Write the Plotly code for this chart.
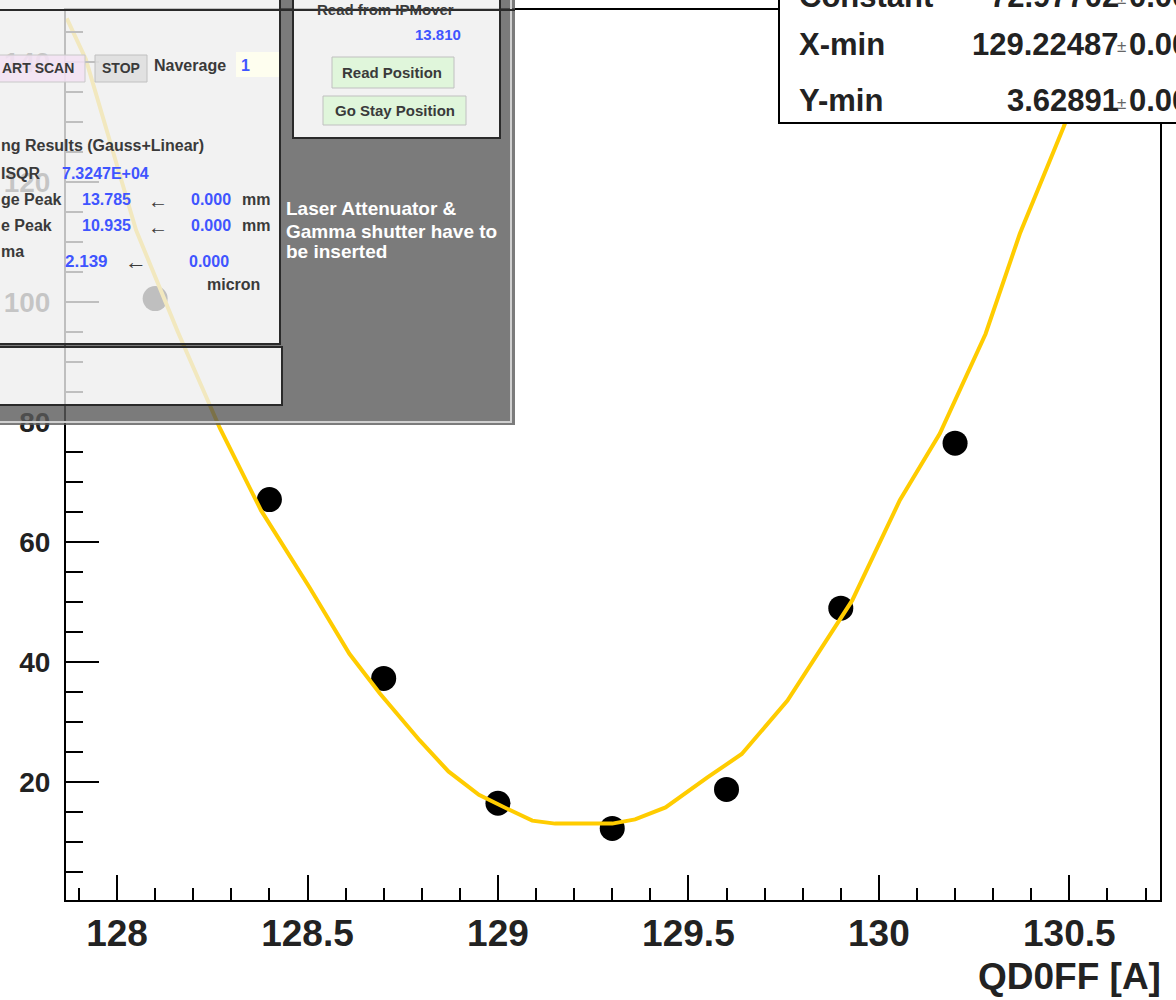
import plotly.graph_objects as go

# ---------------- data ----------------
qd0ff_current = [128.1, 128.4, 128.7, 129.0, 129.3, 129.6, 129.9, 130.2]
beam_size = [100.6, 67.1, 37.3, 16.5, 12.3, 18.8, 49.0, 76.5]

fit_x = [127.868, 127.918, 128.05, 128.16, 128.27, 128.378, 128.505, 128.61, 128.69,
         128.794, 128.87, 128.95, 129.03, 129.09, 129.15, 129.30, 129.36, 129.44,
         129.55, 129.64, 129.76, 129.93, 130.055, 130.16, 130.28, 130.37, 130.485, 130.52]
fit_y = [147.3, 140.5, 112.0, 95.0, 79.0, 65.3, 52.5, 41.4, 34.8,
         27.0, 21.8, 17.9, 15.4, 13.6, 13.1, 13.1, 13.8, 15.8,
         20.8, 24.7, 33.6, 50.3, 67.0, 78.1, 94.7, 111.4, 129.2, 135.0]

x_ticks = [128, 128.5, 129, 129.5, 130, 130.5]
x_tick_labels = ["128", "128.5", "129", "129.5", "130", "130.5"]
y_ticks = [20, 40, 60, 80, 100, 120, 140]
y_tick_labels = ["20", "40", "60", "80", "100", "120", "140"]

fit_param_names = ["Constant", "X-min", "Y-min"]
fit_param_values = ["72.97702", "129.22487", "3.62891"]
fit_param_errors = ["0.00", "0.00", "0.00"]

x_title = "QD0FF [A]"

# ---------------- layout geometry ----------------
W, H = 1176, 1000
ML, MR, MT, MB = 66, 16, 10, 100
PW, PH = W - ML - MR, H - MT - MB


def px(x):
    return (x - ML) / PW


def py(y):
    return (H - MB - y) / PH


FONT = "Liberation Sans"

fig = go.Figure()
fig.add_trace(go.Scatter(
    x=qd0ff_current, y=beam_size, mode="markers",
    marker=dict(symbol="circle", size=25, color="black", line=dict(width=0)),
    showlegend=False, hoverinfo="skip"))
fig.add_trace(go.Scatter(
    x=fit_x, y=fit_y, mode="lines",
    line=dict(color="#ffcc00", width=4),
    showlegend=False, hoverinfo="skip"))

axis_common = dict(showline=True, linecolor="black", linewidth=2, mirror=True,
                   ticks="inside", tickcolor="black", tickwidth=2,
                   showgrid=False, zeroline=False, automargin=False)

fig.update_xaxes(range=[127.866, 130.738], tickmode="array", tickvals=x_ticks,
                 ticktext=x_tick_labels, ticklen=25,
                 minor=dict(tickmode="linear", tick0=128, dtick=0.1, ticklen=12,
                            tickwidth=2, tickcolor="black", ticks="inside"),
                 tickfont=dict(family=FONT, size=37, color="#222", weight="bold"),
                 ticklabelstandoff=0, **axis_common)
fig.update_yaxes(range=[0.37, 148.7], tickmode="array", tickvals=y_ticks,
                 ticktext=y_tick_labels, ticklen=33,
                 minor=dict(tickmode="linear", tick0=0, dtick=5, ticklen=17,
                            tickwidth=2, tickcolor="black", ticks="inside"),
                 tickfont=dict(family=FONT, size=28, color="#222", weight="bold"),
                 ticklabelstandoff=8, **axis_common)

shapes = []
annotations = []


def rect(x0, y0, x1, y1, fill, line="rgba(0,0,0,0)", lw=0):
    shapes.append(dict(type="rect", xref="paper", yref="paper",
                       x0=px(x0), x1=px(x1), y0=py(y1), y1=py(y0),
                       fillcolor=fill, line=dict(color=line, width=lw), layer="above"))


def text(x, y, s, size=16, color="#333", anchor="left", bold=True, family=FONT):
    shift = {"left": -3, "right": 3, "center": 0}[anchor]
    if anchor == "left" and x <= 0:
        shift = -1
    annotations.append(dict(xref="paper", yref="paper", x=px(x), y=py(y), text=s,
                            showarrow=False, xanchor=anchor, yanchor="middle",
                            xshift=shift,
                            font=dict(family=family, size=size, color=color,
                                      weight="bold" if bold else "normal")))


# ---------- overlaid GUI window (semi transparent) ----------
panels = [(-10, -10, 280, 344), (-10, 347, 282, 405), (293, -10, 500, 138)]


def rpath(x0, y0, x1, y1):
    return "M{a},{b} L{c},{b} L{c},{d} L{a},{d} Z".format(a=px(x0), b=py(y0), c=px(x1), d=py(y1))


dark_path = rpath(-10, -10, 515, 425) + " " + " ".join(rpath(*p) for p in panels)
shapes.append(dict(type="path", xref="paper", yref="paper", path=dark_path,
                   fillcolor="rgba(90,90,90,0.8)", line=dict(width=0), layer="above"))
for p in panels:
    rect(*p, fill="rgba(239,239,239,0.8)", line="#2a2a2a", lw=2)

# light edges of window
shapes.append(dict(type="line", xref="paper", yref="paper", x0=px(511), x1=px(511),
                   y0=py(-10), y1=py(422), line=dict(color="#d0d0d0", width=2), layer="above"))
shapes.append(dict(type="line", xref="paper", yref="paper", x0=px(-10), x1=px(512),
                   y0=py(422), y1=py(422), line=dict(color="#d0d0d0", width=2), layer="above"))
# dark horizontal line near top
shapes.append(dict(type="line", xref="paper", yref="paper", x0=px(-10), x1=px(515),
                   y0=py(10), y1=py(10), line=dict(color="#2a2a2a", width=2), layer="above"))

# buttons
rect(-10, 55, 85, 82, "rgba(243,226,243,0.85)", "#c8c8c8", 1)
rect(95, 55, 147, 82, "rgba(222,222,222,0.85)", "#c0c0c0", 1)
rect(236, 52, 279, 77, "rgba(255,255,238,0.9)")
rect(332, 57, 454, 88, "rgba(222,246,216,0.9)", "#c0c0c0", 1)
rect(323, 96, 466, 125, "rgba(222,246,216,0.9)", "#c0c0c0", 1)

BLUE = "#3f55ff"
GUI = "#3a3a3a"
text(73, 68, "ART SCAN", 14, GUI, "right")
text(121, 68, "STOP", 14, GUI, "center")
text(155, 65, "Naverage", 16, GUI)
text(242, 65, "1", 16, BLUE)
text(385, 9, "Read from IPMover", 15, GUI, "center")
text(460, 35, "13.810", 15, BLUE, "right")
text(392, 72, "Read Position", 15, GUI, "center")
text(395, 110, "Go Stay Position", 15, GUI, "center")
text(0, 145, "ng Results (Gauss+Linear)", 16, GUI)
text(0, 173, "ISQR", 16, GUI)
text(63, 173, "7.3247E+04", 16, BLUE)
text(0, 200, "ge Peak", 16, GUI)
text(83, 200, "13.785", 16, BLUE)
text(158, 201, "←", 20, GUI, "center", bold=False)
text(230, 200, "0.000", 16, BLUE, "right")
text(243, 200, "mm", 16, GUI)
text(0, 226, "e Peak", 16, GUI)
text(83, 226, "10.935", 16, BLUE)
text(158, 227, "←", 20, GUI, "center", bold=False)
text(230, 226, "0.000", 16, BLUE, "right")
text(243, 226, "mm", 16, GUI)
text(0, 252, "ma", 16, GUI)
text(66, 261, "2.139", 17, BLUE)
text(136, 261, "←", 22, GUI, "center", bold=False)
text(228, 261, "0.000", 16, BLUE, "right")
text(208, 284, "micron", 16, GUI)
text(287, 209, "Laser Attenuator &", 19, "white")
text(287, 231, "Gamma shutter have to", 19, "white")
text(287, 252, "be inserted", 19, "white")

# ---------- fit statistics box ----------
rect(779, -10, 1190, 123, "white", "black", 2)
row_y = [-4, 45, 101]
for name, val, err, yy in zip(fit_param_names, fit_param_values, fit_param_errors, row_y):
    text(800, yy, name, 31, "#222", "left")
    text(1118, yy, val, 31, "#222", "right")
    text(1121, yy + 2, "±", 17, "#666", "center", bold=False)
    text(1130, yy, err, 31, "#222", "left")

# x axis title (right aligned, ROOT style)
annotations.append(dict(xref="paper", yref="paper", x=px(1160), y=py(976), text=x_title,
                        showarrow=False, xanchor="right", yanchor="middle", xshift=3,
                        font=dict(family=FONT, size=37, color="#222", weight="bold")))

fig.update_layout(width=W, height=H, margin=dict(l=ML, r=MR, t=MT, b=MB),
                  paper_bgcolor="white", plot_bgcolor="white",
                  shapes=shapes, annotations=annotations, showlegend=False)

fig.write_html("out.html")
